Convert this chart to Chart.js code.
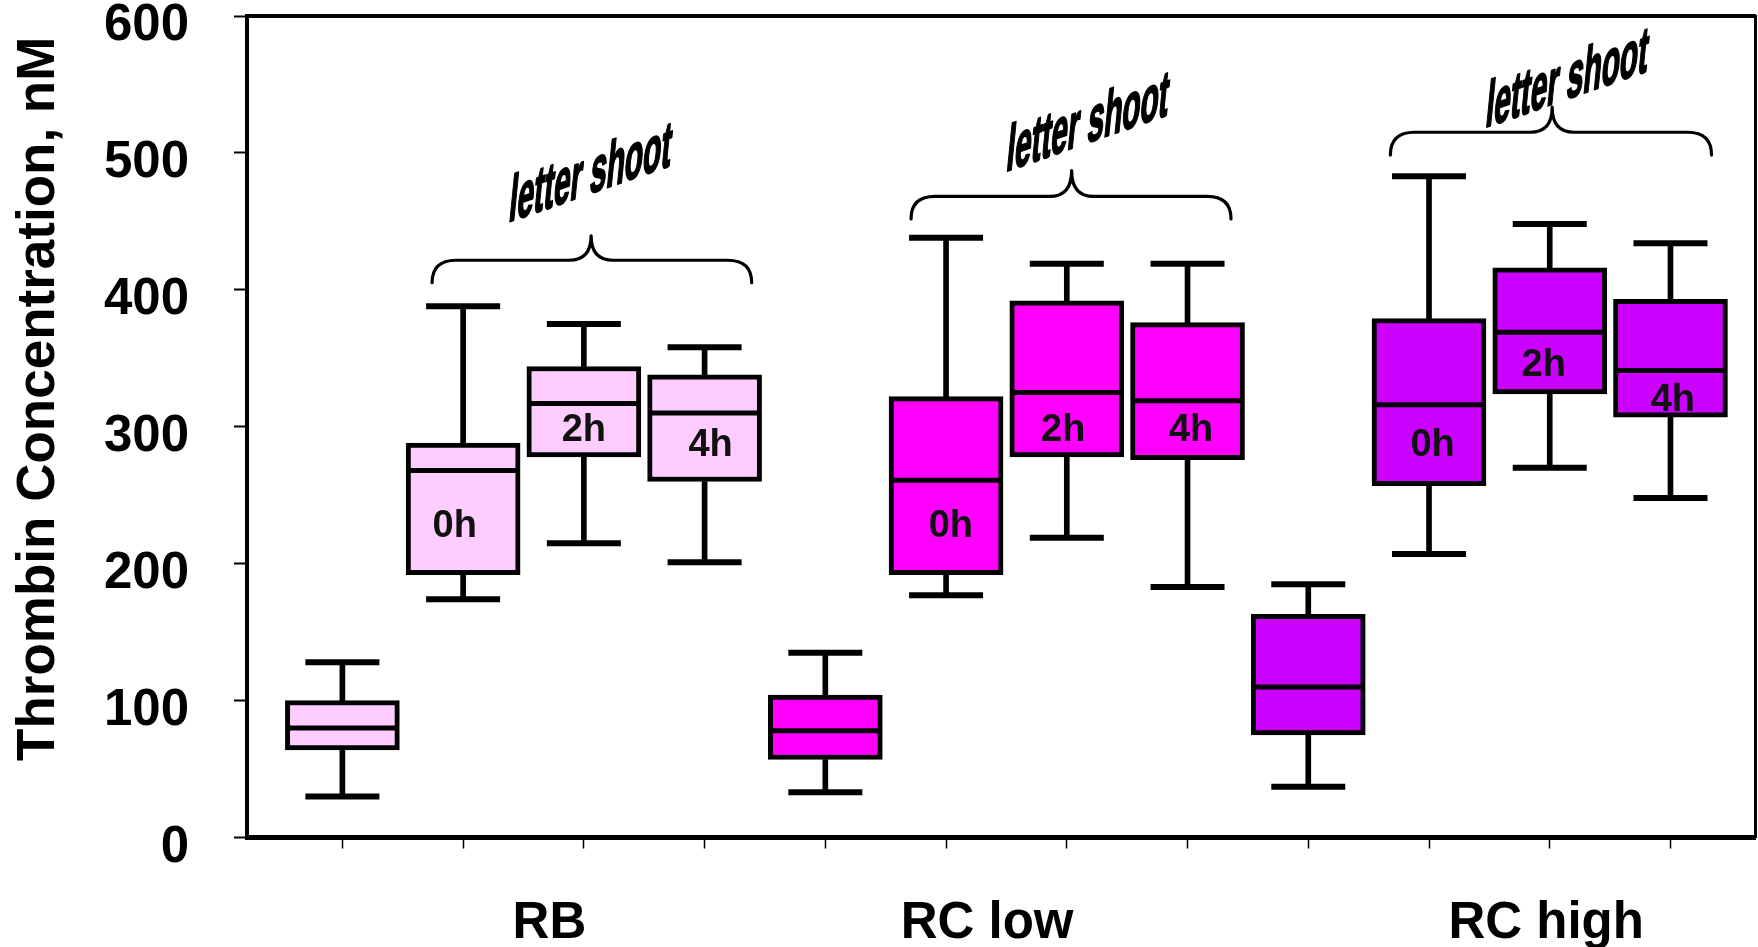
<!DOCTYPE html>
<html><head><meta charset="utf-8">
<script src="https://cdn.jsdelivr.net/npm/chart.js@4.4.1/dist/chart.umd.min.js"></script>
<style>html,body{margin:0;padding:0;background:#fff;overflow:hidden}</style>
</head><body>
<canvas id="c" width="1758" height="947"></canvas>
<script>
// ---- data ----
const categories = ['RB','RB 0h','RB 2h','RB 4h','RC low','RC low 0h','RC low 2h','RC low 4h','RC high','RC high 0h','RC high 2h','RC high 4h'];
const positions = [0,1,2,3,4,5,6,7,8,9,10,11];
const whiskerMin = [30,174,215,201,33,177,219,183,37,207,270,248];
const q1 =         [64,192,278,260,57,192,278,276,75,257,324,307];
const median =     [80,268,317,310,78,261,325,319,110,316,369,341];
const q3 =         [100,288,344,338,104,322,392,376,163,379,416,393];
const whiskerMax = [128,388,375,358,135,438,419,419,185,483,448,434];
const boxColors = ['#FFCCFF','#FFCCFF','#FFCCFF','#FFCCFF','#FF00FF','#FF00FF','#FF00FF','#FF00FF','#CC00FF','#CC00FF','#CC00FF','#CC00FF'];
const yTicks = [0,100,200,300,400,500,600];
const groupLabels = ['RB','RC low','RC high'];
const groupLabelPos = [1.715, 5.34, 9.97];
const timeLabels = ['0h','2h','4h','0h','2h','4h','0h','2h','4h'];
const timeLabelX = [0.93, 2.0, 3.05, 5.04, 5.97, 7.03, 9.03, 9.95, 11.02];
const timeLabelY = [227, 297, 286, 227, 297, 297, 286, 345, 319];
const noteText = 'letter shoot';
const noteX = [2.04, 6.16, 10.13];
const noteY = [470, 507, 539];
const braceLeft = [0.743, 4.71, 8.68];
const braceRight = [3.39, 7.36, 11.34];
const braceMid = [2.06, 6.04, 10.02];
const braceLineY = [421.6, 468.2, 515.1];
const braceEndY = [405.2, 451.8, 498.4];
const braceTipY = [439.5, 487, 533.4];
const yTitle = 'Thrombin Concentration, nM';
const xMin = -0.79, xMax = 11.7;

const FONT = '"Liberation Sans", Arial, Helvetica, sans-serif';
Chart.defaults.font.family = FONT;
Chart.defaults.color = '#000';

function fixSize(prop, val) {
  return s => {
    s[prop] = val;
    s.paddingTop = 0; s.paddingBottom = 0; s.paddingLeft = 0; s.paddingRight = 0;
  };
}

const annot = {
  id: 'annot',
  afterDatasetsDraw(chart) {
    const {ctx} = chart; const x = chart.scales.x, y = chart.scales.y;
    ctx.save();
    ctx.fillStyle = '#111';
    ctx.font = 'bold 38px ' + FONT;
    ctx.textAlign = 'center'; ctx.textBaseline = 'middle';
    timeLabels.forEach((t, i) => ctx.fillText(t, x.getPixelForValue(timeLabelX[i]), y.getPixelForValue(timeLabelY[i])));
    ctx.strokeStyle = '#000'; ctx.lineWidth = 3.2; ctx.lineCap = 'round'; ctx.lineJoin = 'round';
    for (let g = 0; g < braceLeft.length; g++) {
      const L = x.getPixelForValue(braceLeft[g]), R = x.getPixelForValue(braceRight[g]), C = x.getPixelForValue(braceMid[g]);
      const yl = y.getPixelForValue(braceLineY[g]), ye = y.getPixelForValue(braceEndY[g]), yt = y.getPixelForValue(braceTipY[g]);
      const r = 24, rt = 22;
      ctx.beginPath();
      ctx.moveTo(L, ye);
      ctx.quadraticCurveTo(L, yl, L + r, yl);
      ctx.lineTo(C - rt, yl);
      ctx.quadraticCurveTo(C, yl, C, yt);
      ctx.quadraticCurveTo(C, yl, C + rt, yl);
      ctx.lineTo(R - r, yl);
      ctx.quadraticCurveTo(R, yl, R, ye);
      ctx.stroke();
    }
    ctx.fillStyle = '#000';
    ctx.strokeStyle = '#000';
    ctx.lineWidth = 2.2;
    ctx.lineJoin = 'round';
    ctx.font = 'bold 66px ' + FONT;
    ctx.textAlign = 'center'; ctx.textBaseline = 'alphabetic';
    const s = 0.45;
    for (let g = 0; g < noteX.length; g++) {
      ctx.save();
      ctx.translate(x.getPixelForValue(noteX[g]), y.getPixelForValue(noteY[g]));
      ctx.transform(s, -0.35 * s, -0.1, 1, 0, 0);
      ctx.fillText(noteText, 0, 0);
      ctx.strokeText(noteText, 0, 0);
      ctx.restore();
    }
    ctx.restore();
  },
  afterDraw(chart) {
    const {ctx, chartArea} = chart;
    ctx.save();
    ctx.translate(39, chartArea.top + (chartArea.bottom - chartArea.top) / 2 - 28);
    ctx.rotate(-Math.PI / 2);
    ctx.font = 'bold 53px ' + FONT;
    ctx.fillStyle = '#000';
    ctx.textAlign = 'center'; ctx.textBaseline = 'middle';
    ctx.fillText(yTitle, 0, 0);
    ctx.restore();
  }
};

new Chart(document.getElementById('c'), {
  type: 'bar',
  data: {
    datasets: [
      { type: 'scatter', label: 'median', data: positions.map((p, i) => ({x: p, y: median[i]})),
        pointStyle: 'line', pointRadius: 54, pointHoverRadius: 54, pointBorderColor: '#000', borderColor: '#000', pointBorderWidth: 5, order: 0, clip: false },
      { type: 'scatter', label: 'caps', data: positions.map((p, i) => ({x: p, y: whiskerMax[i]})).concat(positions.map((p, i) => ({x: p, y: whiskerMin[i]}))),
        pointStyle: 'line', pointRadius: 37, pointHoverRadius: 37, pointBorderColor: '#000', borderColor: '#000', pointBorderWidth: 6, order: 1, clip: false },
      { label: 'box', data: positions.map((p, i) => ({x: p, y: [q1[i], q3[i]]})),
        backgroundColor: boxColors, borderColor: '#000', borderWidth: 5, borderSkipped: false, barThickness: 114, grouped: false, order: 2 },
      { label: 'upper whisker', data: positions.map((p, i) => ({x: p, y: [q3[i], whiskerMax[i]]})),
        backgroundColor: '#000', borderWidth: 0, barThickness: 5, grouped: false, order: 3 },
      { label: 'lower whisker', data: positions.map((p, i) => ({x: p, y: [whiskerMin[i], q1[i]]})),
        backgroundColor: '#000', borderWidth: 0, barThickness: 5, grouped: false, order: 4 }
    ]
  },
  options: {
    responsive: false, animation: false, devicePixelRatio: 1,
    layout: { padding: 0, autoPadding: false },
    plugins: { legend: { display: false }, tooltip: { enabled: false } },
    scales: {
      x: { type: 'linear', position: 'bottom', min: xMin, max: xMax, offset: false, weight: 0,
        afterBuildTicks: s => { s.ticks = positions.map(v => ({value: v})); },
        ticks: { display: false },
        grid: { display: true, offset: false, drawOnChartArea: false, drawTicks: true, tickLength: 11, tickWidth: 1.5, color: '#000' },
        border: { display: true, color: '#000', width: 5 },
        afterFit: fixSize('height', 12) },
      xg: { type: 'linear', position: 'bottom', min: xMin, max: xMax, offset: false, weight: 1,
        afterBuildTicks: s => { s.ticks = groupLabelPos.map(v => ({value: v})); },
        ticks: { autoSkip: false, maxRotation: 0, minRotation: 0, callback: (v, i) => groupLabels[i], font: { size: 51, weight: 'bold' }, color: '#000', padding: 44 },
        grid: { display: false, drawTicks: false, offset: false }, border: { display: false },
        afterFit: fixSize('height', 97.5) },
      xt: { type: 'linear', position: 'top', min: xMin, max: xMax, offset: false,
        ticks: { display: false }, grid: { display: false, drawTicks: false, offset: false },
        border: { display: true, color: '#000', width: 4 },
        afterFit: fixSize('height', 16) },
      y: { type: 'linear', position: 'left', min: 0, max: 600, beginAtZero: true,
        afterBuildTicks: s => { s.ticks = yTicks.map(v => ({value: v})); },
        ticks: { font: { size: 51, weight: 'bold' }, color: '#000', padding: 45, labelOffset: 10 },
        grid: { drawOnChartArea: false, drawTicks: true, tickLength: 13, tickWidth: 2, color: '#000' },
        border: { display: true, color: '#000', width: 4 },
        afterFit: fixSize('width', 247) },
      yr: { type: 'linear', position: 'right', min: 0, max: 600,
        ticks: { display: false }, grid: { display: false, drawTicks: false },
        border: { display: true, color: '#000', width: 3 },
        afterFit: fixSize('width', 3) }
    }
  },
  plugins: [annot]
});
</script>
</body></html>
